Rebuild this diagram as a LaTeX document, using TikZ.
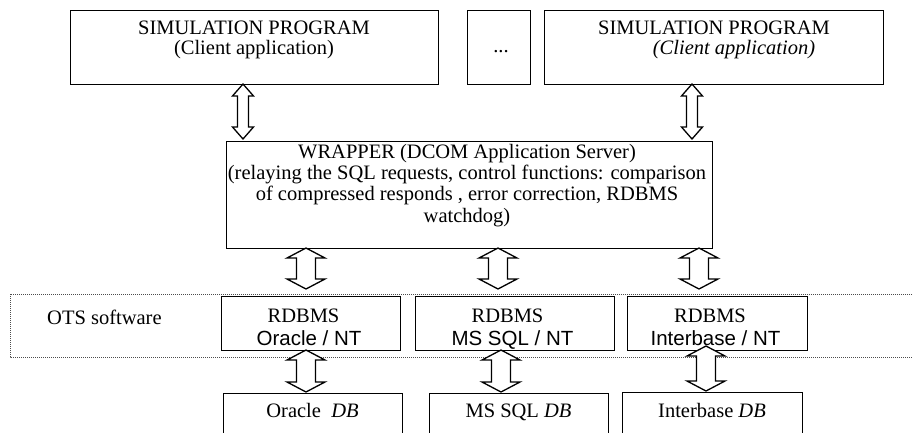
\documentclass[tikz,border=0pt]{standalone}
\usepackage{fontspec}
\setmainfont{Liberation Serif}
\newfontfamily\arialfont{Liberation Sans}
\usetikzlibrary{calc}
% hollow double arrow: #1 top tip, #2 bottom tip, #3 half shaft, #4 half head, #5 head length
\newcommand\hollowarr[5]{%
  \draw[dblarrow] let \p1=(#1), \p2=(#2) in
    (\x1,\y1) -- (\x1+#4pt,\y1-#5pt) -- (\x1+#3pt,\y1-#5pt) -- (\x1+#3pt,\y2+#5pt)
    -- (\x1+#4pt,\y2+#5pt) -- (\x1,\y2) -- (\x1-#4pt,\y2+#5pt) -- (\x1-#3pt,\y2+#5pt)
    -- (\x1-#3pt,\y1-#5pt) -- (\x1-#4pt,\y1-#5pt) -- cycle;}
\begin{document}
\begin{tikzpicture}[x=1pt,y=-1pt,
  box/.style={draw, line width=1.4pt, inner sep=0pt, anchor=north west},
  txt/.style={anchor=base, inner sep=0pt, font=\fontsize{20.5}{21}\selectfont},
  stxt/.style={anchor=base, inner sep=0pt, font=\arialfont\fontsize{20.5}{21}\selectfont},
  dotbox/.style={draw=black!70, line width=1pt, dash pattern=on 1pt off 1pt},
  dblarrow/.style={draw, line width=1.3pt, fill=white, line join=miter}]
\useasboundingbox (0,0) rectangle (913,432);
\clip (0,0) rectangle (913,432);
\fill[white] (0,0) rectangle (913,432);

% dotted OTS band
\draw[dotbox] (10,294) rectangle (930,357);

% boxes
\node[box, minimum width=368pt, minimum height=74pt] (sp1) at (70,10) {};
\node[box, minimum width=63pt, minimum height=74pt] (dots) at (467,10) {};
\node[box, minimum width=339pt, minimum height=74pt] (sp2) at (544,10) {};
\node[box, minimum width=486pt, minimum height=107pt] (wrap) at (226,141) {};
\node[box, minimum width=179pt, minimum height=54pt] (r1) at (221,296) {};
\node[box, minimum width=199pt, minimum height=54pt] (r2) at (415,296) {};
\node[box, minimum width=180pt, minimum height=54pt] (r3) at (627,296) {};
\node[box, minimum width=179pt, minimum height=50pt] (d1) at (223,393) {};
\node[box, minimum width=179pt, minimum height=50pt] (d2) at (429,393) {};
\node[box, minimum width=180pt, minimum height=51pt] (d3) at (622,392) {};

% texts
\node[txt] (sp1a) at (254,34) {SIMULATION PROGRAM};
\node[txt] (sp1b) at (254,54.5) {(Client application)};
\node[txt] (dotst) at (501,52) {...};
\node[txt] (sp2a) at (714,34) {SIMULATION PROGRAM};
\node[txt] (sp2b) at (734,54.5) {\itshape (Client application)};
\node[txt] (w1) at (467,158) {WRAPPER (DCOM Application Server)};
\node[txt] (w2) at (467,179.5) {(relaying the SQL requests, control functions: comparison};
\node[txt] (w3) at (467,200.5) {of compressed responds , error correction, RDBMS};
\node[txt] (w4) at (467,222) {watchdog)};
\node[txt, anchor=base west] (ots) at (47,324) {OTS software};
\node[txt] (r1a) at (303.5,322) {RDBMS};
\node[stxt] (r1b) at (309,345) {Oracle / NT};
\node[txt] (r2a) at (507.5,322) {RDBMS};
\node[stxt] (r2b) at (512.5,345) {MS SQL / NT};
\node[txt] (r3a) at (710,322) {RDBMS};
\node[stxt] (r3b) at (715.5,345) {Interbase / NT};
\node[txt] (d1t) at (312.5,417) {Oracle\ \ \textit{DB}};
\node[txt] (d2t) at (518.5,417) {MS SQL \textit{DB}};
\node[txt] (d3t) at (712,417) {Interbase \textit{DB}};

% arrow end points
\coordinate (u1t) at (243,84);  \coordinate (u1b) at (243,139);
\coordinate (u2t) at (692,84);  \coordinate (u2b) at (692,139);
\coordinate (m1t) at (306,248); \coordinate (m1b) at (306,289);
\coordinate (m2t) at (498,248); \coordinate (m2b) at (498,289);
\coordinate (m3t) at (699,248); \coordinate (m3b) at (699,289);
\coordinate (l1t) at (306,350); \coordinate (l1b) at (306,392);
\coordinate (l2t) at (501,350); \coordinate (l2b) at (501,392);
\coordinate (l3t) at (706,346); \coordinate (l3b) at (706,391);

\hollowarr{u1t}{u1b}{5.5}{10.5}{12}
\hollowarr{u2t}{u2b}{5.5}{10.5}{12}
\hollowarr{m1t}{m1b}{9.5}{19}{10}
\hollowarr{m2t}{m2b}{9.5}{19}{10}
\hollowarr{m3t}{m3b}{9.5}{19}{10}
\hollowarr{l1t}{l1b}{9.5}{19}{10}
\hollowarr{l2t}{l2b}{9.5}{19}{10}
\hollowarr{l3t}{l3b}{9.5}{19}{10}
\end{tikzpicture}
\end{document}
